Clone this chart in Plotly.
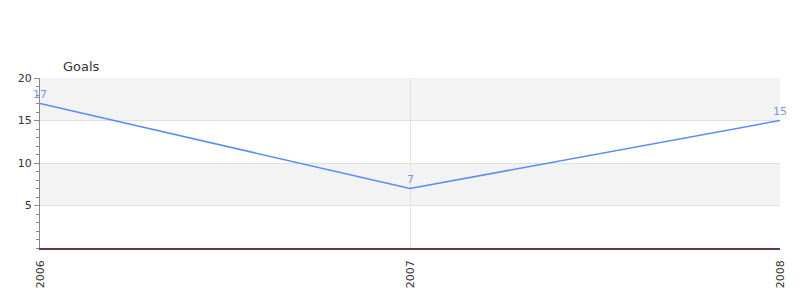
import plotly.graph_objects as go

years = [2006, 2007, 2008]
goals = [17, 7, 15]
year_labels = ["2006", "2007", "2008"]
y_ticks = [5, 10, 15, 20]
bands = [(5, 10), (15, 20)]

fig = go.Figure()
fig.add_trace(go.Scatter(
    x=years, y=goals, mode="lines",
    line=dict(color="#5b8def", width=1.5), cliponaxis=False, hoverinfo="skip"
))
for xv, yv in zip(years, goals):
    fig.add_annotation(x=xv, y=yv, text=str(yv), showarrow=False, yanchor="bottom",
                       yshift=1, font=dict(size=11, color="#729ae8", family="DejaVu Sans"))
for lo, hi in bands:
    fig.add_shape(type="rect", xref="paper", yref="y", x0=0, x1=1, y0=lo, y1=hi,
                  fillcolor="#f3f3f3", line_width=0, layer="below")

fig.add_annotation(text="Goals", xref="paper", yref="paper", x=0.028, y=1.0, yshift=2,
                   xanchor="left", yanchor="bottom", showarrow=False,
                   font=dict(size=13, color="#333", family="DejaVu Sans"))

fig.update_layout(
    width=800, height=300, margin=dict(l=40, r=20, t=78, b=50),
    paper_bgcolor="white", plot_bgcolor="white", showlegend=False,
    font=dict(family="DejaVu Sans", size=11, color="#333"),
)
fig.update_xaxes(range=[2006, 2008], tickvals=years, ticktext=year_labels, tickangle=-90,
                 showgrid=True, gridcolor="#e3e3e3", gridwidth=1, zeroline=False,
                 showline=True, linecolor="#6a3a3a", linewidth=1.5, ticks="", ticklabelstandoff=6)
fig.update_yaxes(range=[0, 20], tickvals=y_ticks, showgrid=True, gridcolor="#e0e0e0",
                 zeroline=False, showline=True, linecolor="#888", linewidth=1,
                 ticks="outside", ticklen=5, tickcolor="#888",
                 minor=dict(dtick=1, ticks="outside", ticklen=3, tickcolor="#888", showgrid=False))
fig.write_html("out.html")
